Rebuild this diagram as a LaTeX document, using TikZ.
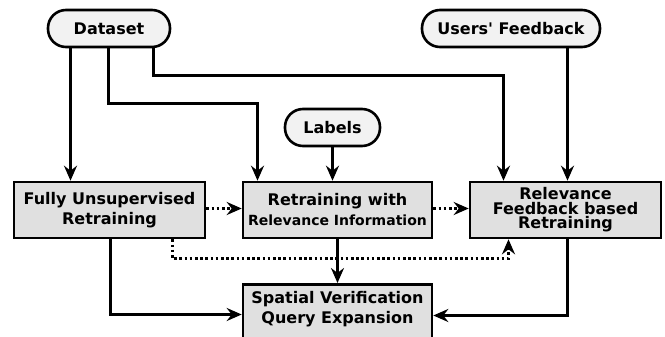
\documentclass[tikz,border=0pt]{standalone}
\usepackage{fontspec}
\setmainfont{DejaVu Sans}[Ligatures=TeXOff]
\usetikzlibrary{arrows.meta,calc}
\definecolor{pillfill}{HTML}{F2F2F2}
\definecolor{boxfill}{HTML}{E0E0E0}
\begin{document}
\begin{tikzpicture}[x=1pt,y=-1pt,
  pill/.style={draw=black,line width=2.6pt,fill=pillfill,rounded corners=18pt,inner sep=0pt,font=\bfseries\fontsize{16}{18}\selectfont},
  procbox/.style={draw=black,line width=2.6pt,fill=boxfill,inner sep=0pt,align=center,font=\bfseries\fontsize{16}{20}\selectfont},
  conn/.style={line width=2.6pt,-{Stealth[length=15pt,width=13pt,inset=5pt]}},
  dconn/.style={conn,dash pattern=on 2.6pt off 2.6pt}
]
\useasboundingbox (0,0) rectangle (665,337);
\node[pill,minimum width=122pt,minimum height=37pt] (data) at (109,28.5) {Dataset};
\node[pill,minimum width=178pt,minimum height=37pt] (users) at (511,28.5) {Users' Feedback};
\node[pill,minimum width=95pt,minimum height=37pt] (labels) at (332.5,127.5) {Labels};
\node[procbox,minimum width=191pt,minimum height=56pt] (fully) at (109.5,210) {Fully Unsupervised\\Retraining};
\node[procbox,minimum width=189pt,minimum height=56pt] (rri) at (337.5,210) {Retraining with\\{\fontsize{14}{14}\selectfont Relevance Information}};
\node[procbox,minimum width=191pt,minimum height=56pt,font=\bfseries\fontsize{16}{14.5}\selectfont] (rfb) at (565.5,210) {Relevance\\Feedback based\\Retraining};
\node[procbox,minimum width=189pt,minimum height=70pt,anchor=north] (svq) at (337.5,283) {Spatial Verification\\Query Expansion\\[4pt]\phantom{x}};
\coordinate (c1) at (108.5,103.5);
\coordinate (c2) at (153.5,75.5);
\draw[conn] (70.5,0 |- data.south) -- (70.5,0 |- fully.north);
\draw[conn] (108.5,0 |- data.south) -- (c1) -- (257.5,103.5) -- (257.5,0 |- rri.north);
\draw[conn] (153.5,0 |- data.south) -- (c2) -- (503.5,75.5) -- (503.5,0 |- rfb.north);
\draw[conn] (users.south -| 567.5,0) -- (567.5,0 |- rfb.north);
\draw[conn] (labels.south) -- (labels.south |- rri.north);
\draw[dconn] (fully.east |- 0,208.5) -- (rri.west |- 0,208.5);
\draw[dconn] (rri.east |- 0,208.5) -- (rfb.west |- 0,208.5);
\draw[dconn] (172.5,0 |- fully.south) -- (172.5,258.5) -- (508.5,258.5) -- (508.5,0 |- rfb.south);
\draw[conn] (337.5,0 |- rri.south) -- (337.5,0 |- svq.north);
\draw[conn] (110.5,0 |- fully.south) -- (110.5,314.5) -- (svq.west |- 0,314.5);
\draw[conn] (567.5,0 |- rfb.south) -- (567.5,315.5) -- (svq.east |- 0,315.5);
\end{tikzpicture}
\end{document}
